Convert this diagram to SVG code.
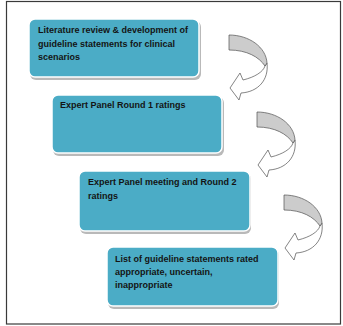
<svg xmlns="http://www.w3.org/2000/svg" width="343" height="326" viewBox="0 0 343 326">
  <style>
    .frame { fill: #ffffff; stroke: #3a3a3a; stroke-width: 1.2; }
    .box { fill: #4BACC6; stroke: #ffffff; stroke-width: 1.5; }
    .shadow { fill: #b9b9b9; }
    .label { font-family: "Liberation Sans", Arial, sans-serif; font-weight: bold; font-size: 9px; fill: #141414; }
    .ribbon-top { fill: #cccccc; stroke: #505050; stroke-width: 0.7; }
    .ribbon-bottom { fill: #ffffff; stroke: #505050; stroke-width: 0.7; }
  </style>
  <defs>
    <!-- curved ribbon arrow: grey tail curling right, white head pointing left -->
    <g id="curl">
      <path class="ribbon-bottom" d="M38,28 C40,45 29,57 12,58 L10,65 L1,53 L11,38 L14,45 C26,42 34,37 36,31 Z"/>
      <path class="ribbon-top" d="M0,0 C20,0 37,12 38,28 L36,31 C30,22 18,15 0,15 Z"/>
    </g>
  </defs>

  <rect class="frame" x="6.5" y="1.5" width="334" height="322.5"/>

  <g id="connectors">
    <use href="#curl" x="229" y="35"/>
    <use href="#curl" x="257" y="112"/>
    <use href="#curl" x="284" y="195"/>
  </g>

  <g id="node-literature">
    <rect class="shadow" x="30" y="21" width="171" height="59" rx="6"/>
    <rect class="box" x="29" y="19" width="170" height="58" rx="6"/>
    <text class="label" x="38" y="33">Literature review &amp; development of</text>
    <text class="label" x="38" y="46.5">guideline statements for clinical</text>
    <text class="label" x="38" y="60">scenarios</text>
  </g>

  <g id="node-round1">
    <rect class="shadow" x="53" y="97" width="171" height="59" rx="6"/>
    <rect class="box" x="52" y="95" width="170" height="58" rx="6"/>
    <text class="label" x="60" y="108">Expert Panel Round 1 ratings</text>
  </g>

  <g id="node-round2">
    <rect class="shadow" x="80" y="173" width="171" height="61" rx="6"/>
    <rect class="box" x="79" y="171" width="171" height="60" rx="6"/>
    <text class="label" x="88" y="185">Expert Panel meeting and Round 2</text>
    <text class="label" x="88" y="199">ratings</text>
  </g>

  <g id="node-result">
    <rect class="shadow" x="108" y="249" width="171" height="60" rx="6"/>
    <rect class="box" x="107" y="247" width="171" height="59" rx="6"/>
    <text class="label" x="115" y="262">List of guideline statements rated</text>
    <text class="label" x="115" y="275">appropriate, uncertain,</text>
    <text class="label" x="115" y="288">inappropriate</text>
  </g>
</svg>
